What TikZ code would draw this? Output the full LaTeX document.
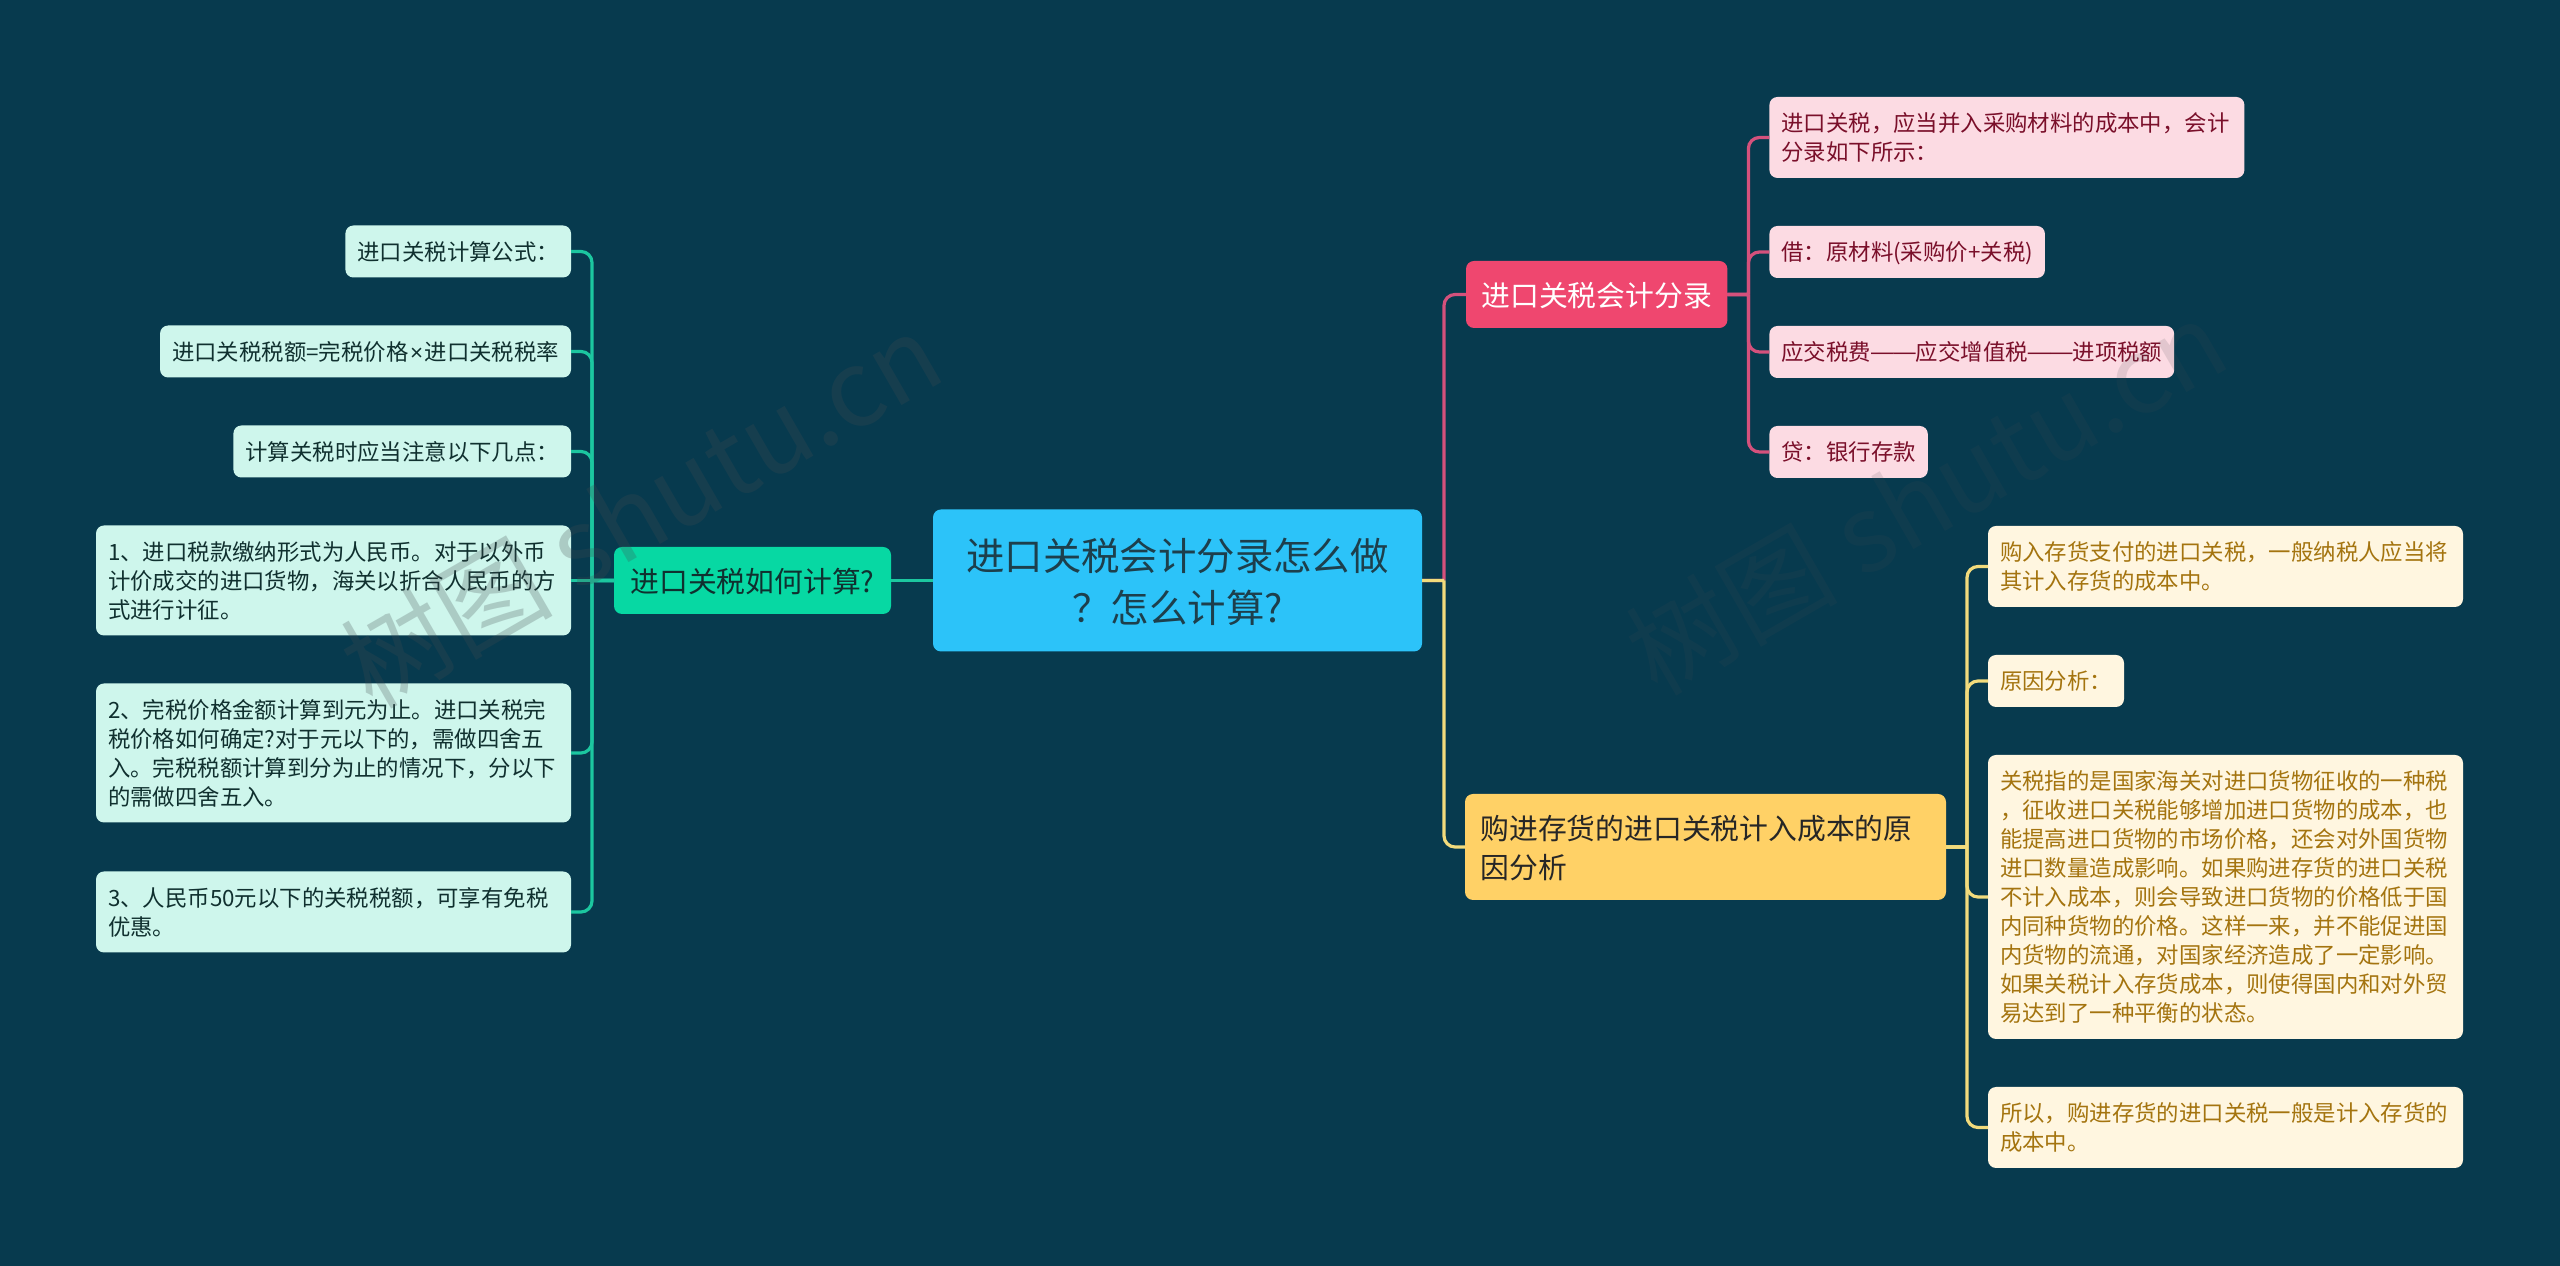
\documentclass[tikz,border=0pt]{standalone}
\usepackage{fontspec}
\setmainfont{Noto Sans CJK SC}
\newfontfamily\latinfont{Liberation Sans}
\usepackage{tikz}
\usetikzlibrary{positioning}
\definecolor{pagebg}{HTML}{073A4E}
\definecolor{rootfill}{HTML}{2CC3F9}
\definecolor{rootink}{HTML}{1D3F4C}
\definecolor{calcfill}{HTML}{07D8A3}
\definecolor{calcpale}{HTML}{CEF6EC}
\definecolor{calcink}{HTML}{10302F}
\definecolor{calcwire}{HTML}{1CC7A0}
\definecolor{bookfill}{HTML}{EF476F}
\definecolor{bookpale}{HTML}{FCDBE3}
\definecolor{bookink}{HTML}{7A0F2A}
\definecolor{bookwire}{HTML}{D4517C}
\definecolor{costfill}{HTML}{FFD166}
\definecolor{costpale}{HTML}{FFF6E0}
\definecolor{costink}{HTML}{A4740F}
\definecolor{costwire}{HTML}{F2DB7C}
\definecolor{stampink}{HTML}{444C50}
\newcommand{\longdash}{\raisebox{1.5pt}{\latinfont —}}
\newcommand{\timessign}{\kern1.5pt{\latinfont ×}\kern1.5pt}
\newcommand{\topgap}{\leavevmode\vrule width 0pt height .81\baselineskip}
\newcommand{\botgap}{\vrule width 0pt depth .19\baselineskip}

\begin{document}
\begin{tikzpicture}[x=1pt,y=1pt,node distance=48pt,line width=3.2pt,
	elbow/.style={to path={-- ++(#1,0) ++(0,0) [rounded corners=11pt] |- (\tikztotarget)}}]
	\tikzstyle{every node}=[outer sep=0pt,rounded corners=8pt,execute at begin node=\topgap,execute at end node=\botgap]
	\tikzstyle{leafbox}=[font=\fontsize{22.4}{29}\selectfont,inner xsep=12pt,inner ysep=11.5pt,align=left]
	\tikzstyle{branchbox}=[font=\fontsize{28.8}{39}\selectfont,inner xsep=15.5pt,inner ysep=14pt,align=left]
	\tikzstyle{wide}=[text width=451pt]
	\tikzstyle{calcleaf}=[leafbox,fill=calcpale,text=calcink]
	\tikzstyle{bookleaf}=[leafbox,fill=bookpale,text=bookink]
	\tikzstyle{costleaf}=[leafbox,fill=costpale,text=costink]
	\tikzstyle{stamp}=[font=\fontsize{106}{116}\selectfont,text=stampink,rotate=30]

	\useasboundingbox (0,0) rectangle (2560,1266);
	\fill[pagebg] (0,0) rectangle (2560,1266);

	\node[fill=rootfill,text=rootink,font=\fontsize{38.4}{52}\selectfont,text width=423pt,inner xsep=33pt,inner ysep=19pt,align=center] (root) at (1177.5,685.5)
		{进口关税会计分录怎么做\\？怎么计算?};

	\node[branchbox,minimum width=277pt,fill=calcfill,text=calcink] (calc) [left=42pt of root] {进口关税如何计算?};
	\node[branchbox,fill=bookfill,text=white]   (book) [above right=252.5pt and 44pt of root.east] {进口关税会计分录};
	\node[branchbox,text width=450pt,fill=costfill,text=black!85] (cost) [below right=213.5pt and 43pt of root.east]
		{购进存货的进口关税计入成本的原\\因分析};

	\node[calcleaf,wide] (f4) [left=43pt of calc]
		{1、进口税款缴纳形式为人民币。对于以外币\\计价成交的进口货物，海关以折合人民币的方\\式进行计征。};
	\node[calcleaf] (f3) [above=of f4.north east,anchor=south east] {计算关税时应当注意以下几点：};
	\node[calcleaf] (f2) [above=of f3.north east,anchor=south east] {进口关税税额=完税价格\timessign 进口关税税率};
	\node[calcleaf] (f1) [above=of f2.north east,anchor=south east] {进口关税计算公式：};
	\node[calcleaf,wide] (f5) [below=of f4.south east,anchor=north east]
		{2、完税价格金额计算到元为止。进口关税完\\税价格如何确定?对于元以下的，需做四舍五\\入。完税税额计算到分为止的情况下，分以下\\的需做四舍五入。};
	\node[calcleaf,wide] (f6) [below=49pt of f5.south east,anchor=north east]
		{3、人民币50元以下的关税税额，可享有免税\\优惠。};

	\node[bookleaf,wide] (b1) [above right=116.5pt and 42pt of book.east]
		{进口关税，应当并入采购材料的成本中，会计\\分录如下所示：};
	\node[bookleaf] (b2) [below=of b1.south west,anchor=north west] {借：原材料(采购价+关税)};
	\node[bookleaf] (b3) [below=of b2.south west,anchor=north west] {应交税费\longdash\longdash 应交增值税\longdash\longdash 进项税额};
	\node[bookleaf] (b4) [below=of b3.south west,anchor=north west] {贷：银行存款};

	\node[costleaf,wide] (c1) [above right=240pt and 42pt of cost.east]
		{购入存货支付的进口关税，一般纳税人应当将\\其计入存货的成本中。};
	\node[costleaf] (c2) [below=of c1.south west,anchor=north west] {原因分析：};
	\node[costleaf,wide] (c3) [below=of c2.south west,anchor=north west]
		{关税指的是国家海关对进口货物征收的一种税\\，征收进口关税能够增加进口货物的成本，也\\能提高进口货物的市场价格，还会对外国货物\\进口数量造成影响。如果购进存货的进口关税\\不计入成本，则会导致进口货物的价格低于国\\内同种货物的价格。这样一来，并不能促进国\\内货物的流通，对国家经济造成了一定影响。\\如果关税计入存货成本，则使得国内和对外贸\\易达到了一种平衡的状态。};
	\node[costleaf,wide] (c4) [below=of c3.south west,anchor=north west]
		{所以，购进存货的进口关税一般是计入存货的\\成本中。};

	\path[draw=calcwire] (root.west) edge (calc.east);
	\path[draw=calcwire] (calc.west) edge (f4.east);
	\foreach \leaf in {f1,f2,f3,f5,f6}
		\path[draw=calcwire] (calc.west) edge[elbow=-22pt] (\leaf.east);
	\path[draw=bookwire] (root.east) edge[elbow=22pt] (book.west);
	\path[draw=costwire] (root.east) edge[elbow=22pt] (cost.west);
	\foreach \leaf in {b1,b2,b3,b4}
		\path[draw=bookwire] (book.east) edge[elbow=21pt] (\leaf.west);
	\foreach \leaf in {c1,c2,c3,c4}
		\path[draw=costwire] (cost.east) edge[elbow=21pt] (\leaf.west);

	\node[stamp,text opacity=0.25] (stampleft)  at (643,753)  {树图 shutu.cn};
	\node[stamp,text opacity=0.14] (stampright) at (1928,766) {树图 shutu.cn};
\end{tikzpicture}
\end{document}
